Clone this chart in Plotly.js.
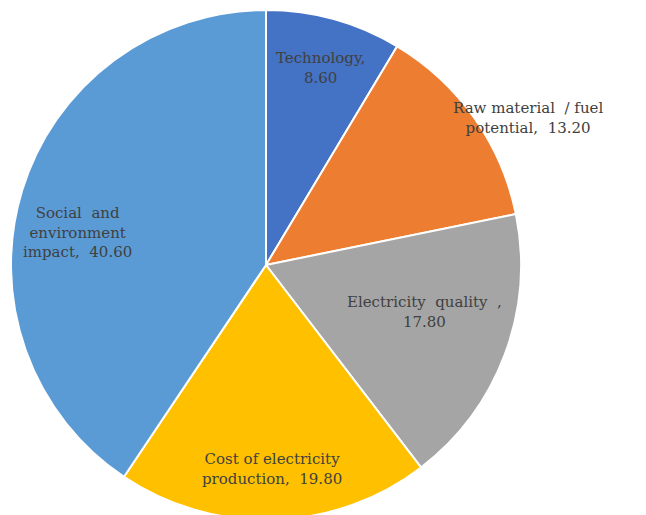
<!DOCTYPE html>
<html><head><meta charset="utf-8">
<script src="https://cdn.plot.ly/plotly-3.0.1.min.js"></script>
<style>html,body{margin:0;padding:0;overflow:hidden;background:#fff;}</style>
</head><body>
<div id="chart" style="width:646px;height:525px;"></div>
<script>
const categories = ["Technology", "Raw material  / fuel potential", "Electricity  quality  ", "Cost of electricity production", "Social  and environment impact"];
const labelLines = [["Technology,"], ["Raw material  / fuel", "potential,"], ["Electricity  quality  ,"], ["Cost of electricity", "production,"], ["Social  and", "environment", "impact,"]];
const values = [8.60, 13.20, 17.80, 19.80, 40.60];
const colors = ["#4472C4", "#ED7D31", "#A5A5A5", "#FFC000", "#5B9BD5"];
// label placement: fraction of radius and angle shift (degrees) from slice mid-angle
const labelRadius = [0.80, 1.18, 0.65, 0.80, 0.75];
const labelAngleShift = [0, 6, -4, 0, -7];
const valueOnOwnLine = [true, false, true, false, false];

const W = 646, H = 525;
const cx = 266, cy = 265, R = 255;
const total = values.reduce((a, b) => a + b, 0);
const annotations = [];
let cum = 0;
values.forEach((v, i) => {
  const mid = (cum + v / 2) / total * 360 + labelAngleShift[i];
  cum += v;
  const th = mid * Math.PI / 180;
  const px = cx + labelRadius[i] * R * Math.sin(th);
  const py = cy - labelRadius[i] * R * Math.cos(th);
  const lines = labelLines[i].slice();
  const val = v.toFixed(2);
  if (valueOnOwnLine[i]) lines.push(val);
  else lines[lines.length - 1] = lines[lines.length - 1] + "\u00a0\u00a0" + val;
  annotations.push({
    x: px / W, y: (H - py) / H, xref: "paper", yref: "paper",
    xanchor: "center", yanchor: "middle", showarrow: false,
    text: lines.join("<br>").replace(/  /g, "\u00a0\u00a0"),
    font: {family: "'DejaVu Serif', serif", size: 15, color: "#404040"}
  });
});

const data = [{
  type: "pie",
  labels: categories,
  values: values,
  sort: false,
  direction: "clockwise",
  rotation: 0,
  marker: {colors: colors, line: {color: "#ffffff", width: 2}},
  textinfo: "none",
  hoverinfo: "label+value",
  showlegend: false,
  domain: {x: [(cx - R) / W, (cx + R) / W], y: [(H - cy - R) / H, (H - cy + R) / H]}
}];
const layout = {
  width: W, height: H,
  margin: {l: 0, r: 0, t: 0, b: 0},
  paper_bgcolor: "#ffffff",
  showlegend: false,
  annotations: annotations
};
Plotly.newPlot("chart", data, layout, {displayModeBar: false, staticPlot: true});
</script>
</body></html>
